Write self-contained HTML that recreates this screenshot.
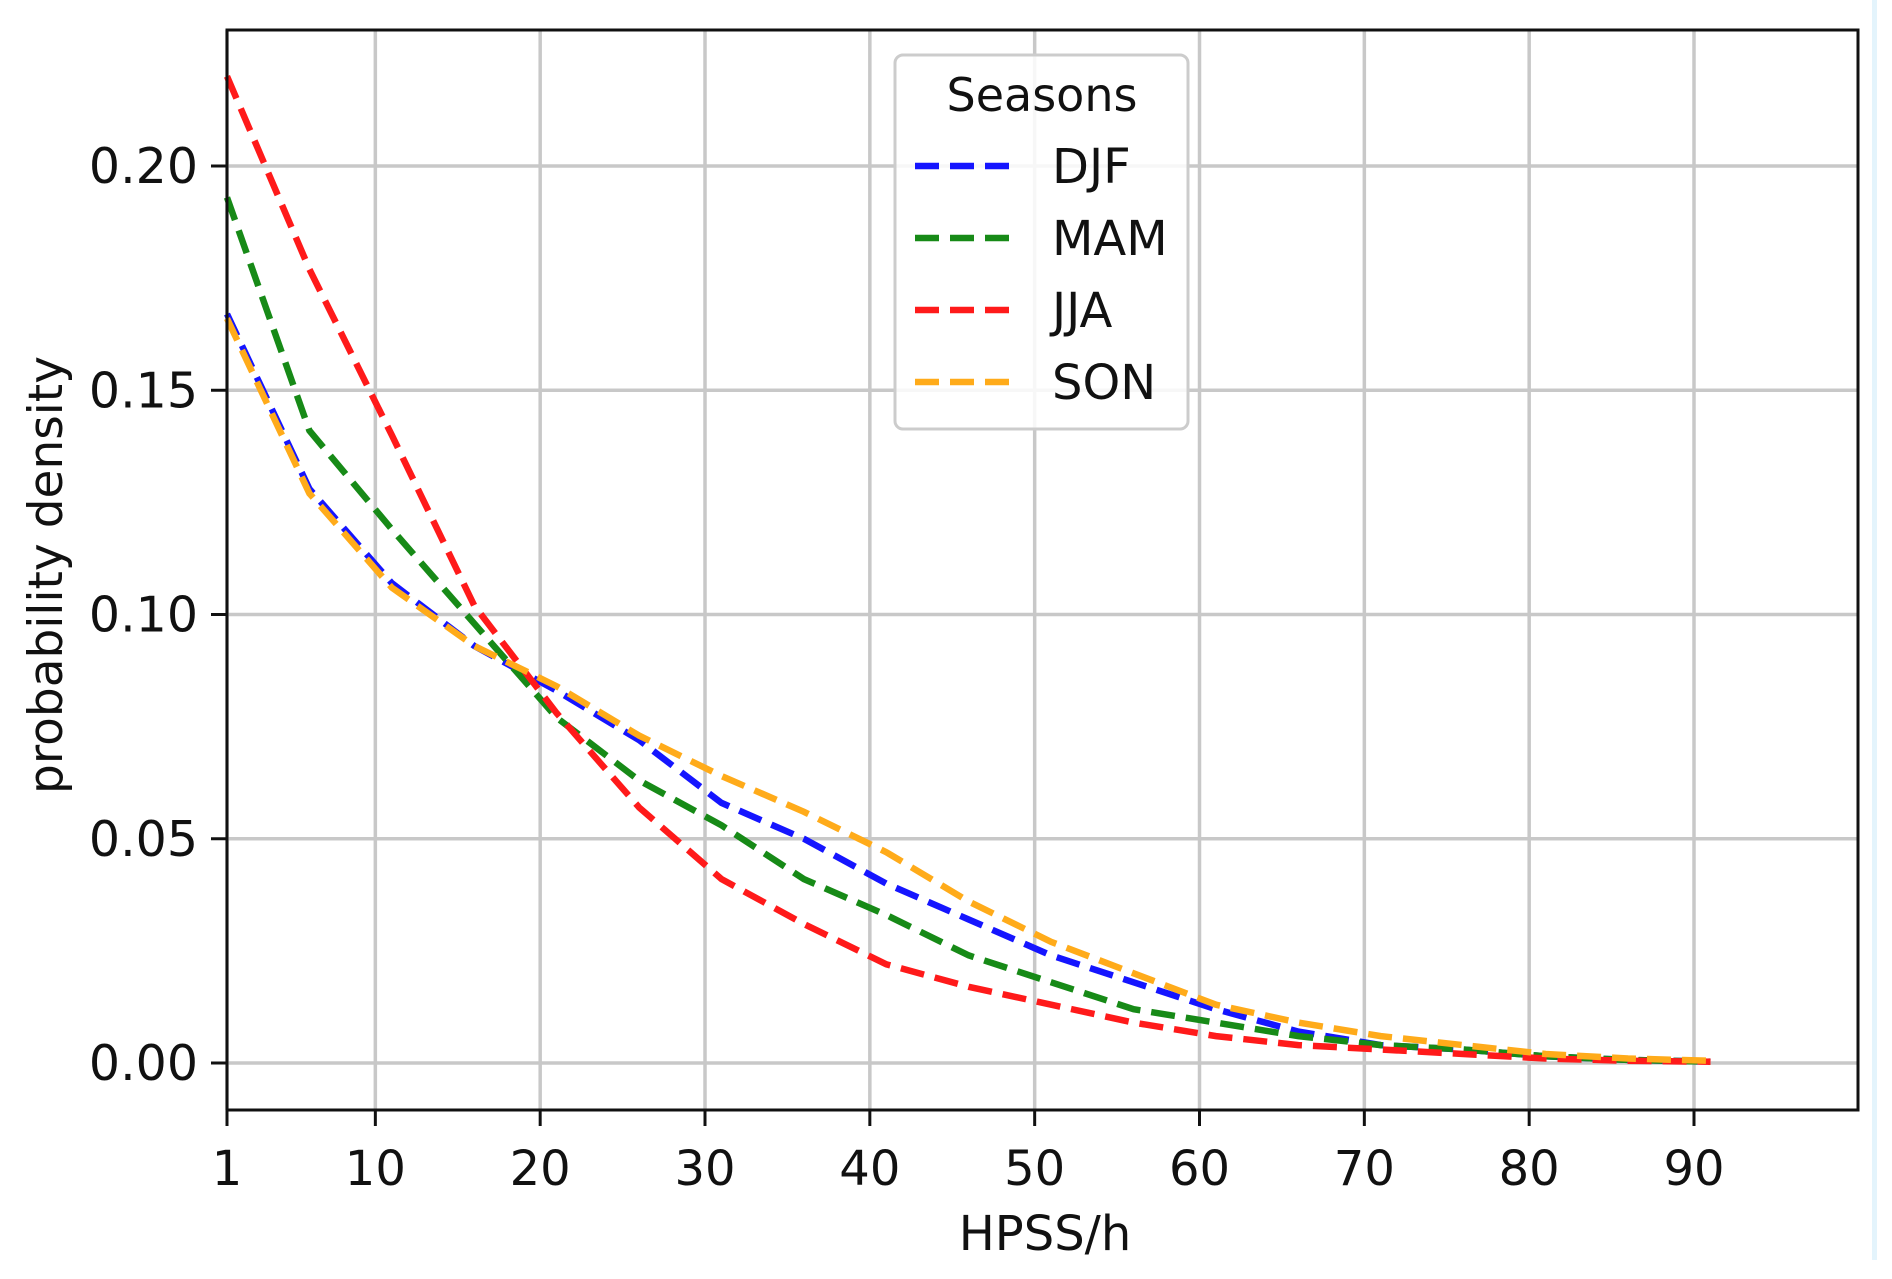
<!DOCTYPE html>
<html><head><meta charset="utf-8"><style>
body{margin:0;background:#fff;}
svg{display:block;font-family:"DejaVu Sans","Liberation Sans",sans-serif;}
</style></head><body>
<svg id="chart" width="1892" height="1279" viewBox="0 0 1892 1279" xmlns="http://www.w3.org/2000/svg">
<rect x="1872" y="0" width="5" height="1260" fill="#e4f4fc"/>
<g id="grid"></g>
<g id="series"></g>
<rect x="227" y="30" width="1631" height="1080" fill="none" stroke="#111" stroke-width="3"/>
<g id="ticks"></g>
<text x="1045" y="1250" font-size="48" text-anchor="middle" fill="#111">HPSS/h</text>
<text transform="translate(62,575) rotate(-90)" font-size="47" text-anchor="middle" fill="#111">probability density</text>
<g>
<rect x="895" y="55" width="293" height="374" rx="8" fill="#fff" fill-opacity="0.85" stroke="#ccc" stroke-width="3"/>
<text x="1042" y="111" font-size="46" text-anchor="middle" fill="#111">Seasons</text>
<g id="legend-entries"></g>
</g>
</svg>
<script>
const xTicks=[1,10,20,30,40,50,60,70,80,90];
const yTicks=[0,0.05,0.10,0.15,0.20];
const yTickLabels=["0.00","0.05","0.10","0.15","0.20"];
const xValues=[1,6,11,16,21,26,31,36,41,46,51,56,61,66,71,76,81,86,91];
const seriesNames=["DJF","MAM","JJA","SON"];
const djf=[0.167,0.128,0.107,0.093,0.083,0.072,0.058,0.050,0.040,0.032,0.024,0.018,0.012,0.007,0.004,0.003,0.0015,0.0007,0.0003];
const mam=[0.193,0.141,0.119,0.098,0.077,0.063,0.053,0.041,0.033,0.024,0.018,0.012,0.009,0.006,0.004,0.003,0.0015,0.0007,0.0003];
const jja=[0.220,0.177,0.140,0.102,0.078,0.057,0.041,0.031,0.022,0.017,0.013,0.009,0.006,0.004,0.003,0.002,0.001,0.0005,0.0003];
const son=[0.166,0.127,0.106,0.093,0.084,0.073,0.064,0.056,0.047,0.036,0.027,0.020,0.013,0.009,0.006,0.004,0.002,0.001,0.0005];
const colors=["#1515ff","#178a17","#ff1a1a","#ffab1a"];
const NS="http://www.w3.org/2000/svg";
function X(v){return 227+(v-1)*(1694-227)/89;}
function Y(v){return 1063-v*(1063-166)/0.2;}
function mk(tag,attrs,parent){const e=document.createElementNS(NS,tag);for(const k in attrs)e.setAttribute(k,attrs[k]);parent.appendChild(e);return e;}
const grid=document.getElementById('grid'),ticks=document.getElementById('ticks'),ser=document.getElementById('series'),leg=document.getElementById('legend-entries');
xTicks.forEach(t=>{
  const g=mk('line',{x1:X(t),x2:X(t),y1:30,y2:1110,stroke:'#c8c8c8','stroke-width':3.5},grid);
  
  
  const tk=mk('line',{x1:X(t),x2:X(t),y1:1110,y2:1126,stroke:'#111','stroke-width':3},ticks);
  
  
  const tx=mk('text',{x:X(t),y:1185,'font-size':48,'text-anchor':'middle',fill:'#111'},ticks);
  tx.textContent=t;
  
  
});
yTicks.forEach((t,i)=>{
  const g=mk('line',{x1:227,x2:1858,y1:Y(t),y2:Y(t),stroke:'#c8c8c8','stroke-width':3.5},grid);
  
  
  const tk=mk('line',{x1:211,x2:227,y1:Y(t),y2:Y(t),stroke:'#111','stroke-width':3},ticks);
  
  
  const tx=mk('text',{x:198,y:Y(t)+17,'font-size':49,'text-anchor':'end',fill:'#111'},ticks);
  tx.textContent=yTickLabels[i];
  
  
});
[djf,mam,jja,son].forEach((d,i)=>{
  const pts=d.map((v,j)=>X(xValues[j]).toFixed(1)+','+Y(v).toFixed(1)).join(' ');
  const p=mk('polyline',{points:pts,fill:'none',stroke:colors[i],'stroke-width':6.5,'stroke-dasharray':'24 11'},ser);
  
  
  const ly=166+i*72;
  const l=mk('line',{x1:915,x2:1015,y1:ly,y2:ly,stroke:colors[i],'stroke-width':6.5,'stroke-dasharray':'24 11'},leg);
  
  
  const t=mk('text',{x:1052,y:ly+17,'font-size':48,fill:'#111'},leg);
  t.textContent=seriesNames[i];
  
  
});
</script>
</body></html>
